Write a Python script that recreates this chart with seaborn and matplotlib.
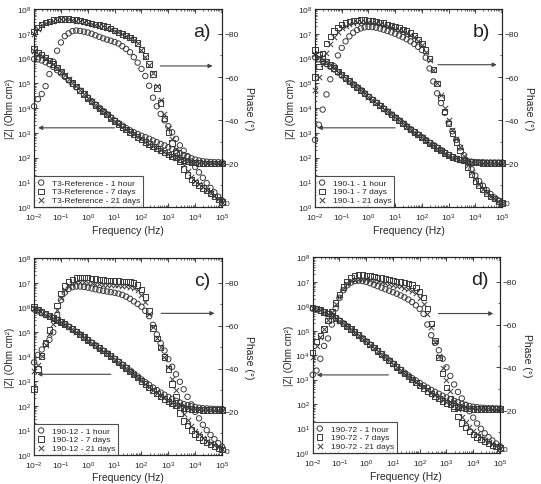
import numpy as np
import matplotlib
matplotlib.use("Agg")
import matplotlib.pyplot as plt
from matplotlib.ticker import LogLocator, NullFormatter, MultipleLocator
import seaborn as sns

# measured frequencies (Hz), 7 points per decade
freq = [0.01, 0.01389, 0.01931, 0.02683, 0.03728, 0.0518, 0.07197,
        0.1, 0.1389, 0.1931, 0.2683, 0.3728, 0.518, 0.7197,
        1.0, 1.389, 1.931, 2.683, 3.728, 5.18, 7.197,
        10.0, 13.89, 19.31, 26.83, 37.28, 51.8, 71.97,
        100.0, 138.9, 193.1, 268.3, 372.8, 518.0, 719.7,
        1000.0, 1389.0, 1931.0, 2683.0, 3728.0, 5180.0, 7197.0,
        10000.0, 13890.0, 19310.0, 26830.0, 37280.0, 51800.0, 71970.0,
        100000.0]

# a) T3-Reference : log10 |Z| and phase (deg)
a_logz_1h = [5.98, 5.97, 5.92, 5.85, 5.77, 5.66, 5.53,
             5.40, 5.26, 5.12, 4.98, 4.84, 4.70, 4.56,
             4.42, 4.28, 4.14, 4.01, 3.88, 3.75, 3.62,
             3.50, 3.39, 3.29, 3.19, 3.10, 3.02, 2.95,
             2.88, 2.82, 2.76, 2.69, 2.62, 2.55, 2.49,
             2.42, 2.34, 2.26, 2.18, 2.10, 2.03, 1.97,
             1.92, 1.88, 1.85, 1.83, 1.82, 1.81, 1.81, 1.80]
a_logz_7d = [6.38, 6.25, 6.16, 6.04, 5.92, 5.78, 5.63,
             5.47, 5.31, 5.16, 5.01, 4.86, 4.71, 4.56,
             4.41, 4.27, 4.13, 3.99, 3.86, 3.73, 3.60,
             3.47, 3.35, 3.24, 3.13, 3.03, 2.93, 2.83,
             2.73, 2.63, 2.54, 2.45, 2.37, 2.28, 2.20,
             2.12, 2.05, 1.99, 1.93, 1.88, 1.84, 1.81,
             1.79, 1.78, 1.77, 1.77, 1.76, 1.76, 1.76, 1.76]
a_logz_21d = [6.30, 6.20, 6.12, 6.02, 5.90, 5.77, 5.62,
              5.47, 5.32, 5.17, 5.02, 4.87, 4.72, 4.57,
              4.42, 4.28, 4.14, 4.00, 3.87, 3.74, 3.61,
              3.48, 3.36, 3.25, 3.14, 3.04, 2.94, 2.84,
              2.74, 2.64, 2.55, 2.46, 2.38, 2.29, 2.21,
              2.13, 2.06, 2.00, 1.94, 1.89, 1.85, 1.82,
              1.80, 1.79, 1.78, 1.78, 1.77, 1.77, 1.77, 1.77]
a_ph_1h = [-46.5, -49.8, -52.2, -55.8, -61.4, -67.1, -72.2,
           -76.0, -78.9, -80.2, -81.2, -81.5, -81.3, -81.0,
           -80.6, -80.0, -79.3, -78.6, -77.9, -77.3, -76.8,
           -76.2, -75.5, -74.3, -73.0, -71.5, -69.2, -66.7,
           -63.8, -60.5, -56.0, -50.5, -46.5, -43.0, -40.0,
           -37.3, -34.5, -31.5, -28.5, -26.0, -23.5, -21.0,
           -18.5, -16.0, -13.5, -11.0, -8.8, -6.8, -4.8, -3.0]
a_ph_7d = [-81.0, -83.0, -84.3, -85.2, -85.8, -86.3, -86.6,
           -86.8, -86.9, -86.8, -86.6, -86.3, -86.0, -85.6,
           -85.2, -84.8, -84.4, -84.0, -83.6, -83.1, -82.5,
           -81.5, -80.7, -79.9, -79.1, -78.3, -77.3, -75.8,
           -72.8, -69.8, -66.0, -61.5, -55.0, -48.0, -41.0,
           -34.5, -29.5, -25.0, -21.0, -17.5, -14.8, -12.8,
           -11.2, -9.9, -8.7, -7.5, -6.3, -5.0, -3.6, -2.3]
a_ph_21d = [-80.0, -82.4, -83.9, -84.9, -85.6, -86.1, -86.4,
            -86.6, -86.7, -86.6, -86.4, -86.1, -85.8, -85.4,
            -85.0, -84.6, -84.2, -83.8, -83.4, -82.9, -82.3,
            -81.4, -80.6, -79.8, -79.0, -78.2, -77.2, -75.6,
            -72.6, -69.5, -65.8, -61.8, -56.0, -49.5, -43.0,
            -36.5, -31.5, -27.0, -23.0, -19.5, -16.5, -14.0,
            -12.0, -10.5, -9.2, -7.9, -6.6, -5.2, -3.8, -2.4]

# b) 190-1
b_logz_1h = [6.05, 5.97, 5.88, 5.78, 5.67, 5.56, 5.44,
             5.32, 5.20, 5.08, 4.96, 4.84, 4.72, 4.59,
             4.46, 4.34, 4.22, 4.10, 3.98, 3.86, 3.74,
             3.62, 3.50, 3.38, 3.26, 3.15, 3.04, 2.93,
             2.82, 2.71, 2.60, 2.50, 2.40, 2.30, 2.20,
             2.10, 2.02, 1.95, 1.90, 1.87, 1.85, 1.83,
             1.82, 1.81, 1.81, 1.80, 1.80, 1.80, 1.80, 1.80]
b_logz_7d = [6.35, 6.16, 6.01, 5.87, 5.74, 5.61, 5.48,
             5.35, 5.22, 5.09, 4.96, 4.84, 4.72, 4.59,
             4.46, 4.34, 4.22, 4.10, 3.98, 3.86, 3.74,
             3.62, 3.50, 3.38, 3.26, 3.14, 3.03, 2.92,
             2.81, 2.70, 2.59, 2.48, 2.38, 2.28, 2.19,
             2.10, 2.02, 1.96, 1.91, 1.87, 1.84, 1.82,
             1.80, 1.79, 1.78, 1.78, 1.78, 1.78, 1.78, 1.78]
b_logz_21d = [6.20, 6.08, 5.96, 5.84, 5.72, 5.60, 5.47,
              5.34, 5.21, 5.08, 4.96, 4.84, 4.72, 4.59,
              4.46, 4.34, 4.22, 4.10, 3.98, 3.86, 3.74,
              3.62, 3.50, 3.38, 3.26, 3.14, 3.03, 2.92,
              2.81, 2.70, 2.60, 2.49, 2.39, 2.29, 2.20,
              2.11, 2.03, 1.97, 1.92, 1.88, 1.85, 1.83,
              1.81, 1.80, 1.79, 1.79, 1.79, 1.79, 1.79, 1.79]
b_ph_1h = [-31.0, -38.0, -45.0, -52.0, -59.0, -65.0, -70.0,
           -73.5, -76.5, -78.8, -80.5, -81.7, -82.5, -83.0,
           -83.2, -83.1, -82.8, -82.4, -81.9, -81.3, -80.7,
           -80.0, -79.2, -78.4, -77.5, -76.5, -75.3, -74.0,
           -72.5, -69.0, -64.0, -58.0, -52.5, -48.0, -43.5,
           -39.0, -35.0, -31.0, -27.5, -24.0, -20.5, -17.5,
           -14.5, -12.0, -9.8, -7.8, -6.0, -4.4, -3.1, -2.0]
b_ph_7d = [-60.0, -65.0, -71.0, -75.5, -78.8, -81.3, -83.0,
           -84.2, -85.0, -85.6, -86.0, -86.2, -86.3, -86.3,
           -86.2, -86.0, -85.7, -85.3, -84.9, -84.4, -83.9,
           -83.3, -82.7, -82.0, -81.2, -80.3, -79.2, -77.5,
           -75.5, -72.5, -68.5, -63.5, -57.0, -50.5, -44.0,
           -38.5, -34.0, -30.0, -26.0, -22.0, -18.5, -15.0,
           -12.0, -9.8, -8.0, -6.5, -5.0, -3.8, -2.7, -1.8]
b_ph_21d = [-54.0, -60.0, -66.0, -71.0, -75.5, -78.5, -80.8,
            -82.5, -83.7, -84.5, -85.0, -85.3, -85.4, -85.4,
            -85.3, -85.1, -84.8, -84.4, -84.0, -83.5, -83.0,
            -82.4, -81.8, -81.1, -80.3, -79.4, -78.3, -76.7,
            -74.8, -71.8, -68.0, -63.5, -57.5, -51.5, -45.5,
            -40.0, -35.5, -31.5, -27.5, -23.5, -19.5, -16.0,
            -13.0, -10.5, -8.5, -6.8, -5.3, -4.0, -2.9, -1.9]

# c) 190-12
c_logz_1h = [5.92, 5.84, 5.77, 5.70, 5.63, 5.56, 5.49,
             5.41, 5.32, 5.22, 5.12, 5.01, 4.90, 4.79,
             4.68, 4.57, 4.46, 4.35, 4.24, 4.13, 4.02,
             3.91, 3.79, 3.67, 3.55, 3.43, 3.31, 3.19,
             3.07, 2.96, 2.85, 2.74, 2.64, 2.54, 2.45,
             2.36, 2.28, 2.20, 2.13, 2.07, 2.02, 1.98,
             1.95, 1.92, 1.90, 1.89, 1.88, 1.87, 1.87, 1.87]
c_logz_7d = [6.02, 5.91, 5.81, 5.73, 5.65, 5.57, 5.49,
             5.41, 5.32, 5.22, 5.12, 5.01, 4.90, 4.79,
             4.68, 4.57, 4.46, 4.35, 4.24, 4.13, 4.02,
             3.90, 3.78, 3.66, 3.53, 3.40, 3.27, 3.14,
             3.01, 2.88, 2.75, 2.62, 2.50, 2.38, 2.27,
             2.17, 2.08, 2.01, 1.95, 1.91, 1.88, 1.86,
             1.85, 1.84, 1.83, 1.83, 1.83, 1.83, 1.83, 1.83]
c_logz_21d = [5.97, 5.88, 5.79, 5.71, 5.64, 5.56, 5.49,
              5.41, 5.32, 5.22, 5.12, 5.01, 4.90, 4.79,
              4.68, 4.57, 4.46, 4.35, 4.24, 4.13, 4.02,
              3.90, 3.78, 3.66, 3.54, 3.41, 3.28, 3.15,
              3.03, 2.90, 2.78, 2.65, 2.53, 2.41, 2.30,
              2.20, 2.11, 2.04, 1.98, 1.93, 1.90, 1.88,
              1.86, 1.85, 1.84, 1.84, 1.84, 1.84, 1.84, 1.84]
c_ph_1h = [-43.0, -46.5, -49.0, -51.5, -53.5, -57.0, -65.0,
           -72.0, -75.5, -77.2, -78.0, -78.3, -78.3, -78.1,
           -77.8, -77.4, -77.0, -76.6, -76.3, -76.0, -75.7,
           -75.4, -75.0, -74.4, -73.6, -72.6, -71.4, -70.2,
           -68.9, -67.0, -64.5, -60.5, -56.0, -52.0, -48.5,
           -44.5, -41.0, -37.5, -34.0, -30.5, -27.0, -23.5,
           -20.0, -17.0, -14.0, -11.5, -9.3, -7.3, -5.5, -3.8]
c_ph_7d = [-30.6, -40.0, -46.0, -52.0, -58.0, -64.0, -69.6,
           -75.0, -78.5, -80.5, -81.7, -82.3, -82.6, -82.6,
           -82.4, -82.1, -81.8, -81.6, -81.4, -81.2, -81.0,
           -80.9, -80.8, -80.7, -80.6, -80.4, -80.0, -79.0,
           -77.0, -73.5, -67.0, -59.0, -54.0, -50.0, -45.5,
           -40.0, -33.0, -27.0, -19.5, -15.8, -13.8, -11.5,
           -9.7, -8.3, -7.0, -5.8, -4.8, -3.9, -3.1, -2.5]
c_ph_21d = [-39.0, -42.0, -46.0, -51.0, -56.0, -61.0, -67.5,
            -73.0, -76.5, -78.6, -79.7, -80.2, -80.3, -80.2,
            -80.0, -79.8, -79.6, -79.4, -79.2, -79.1, -79.0,
            -78.9, -78.8, -78.7, -78.5, -78.2, -77.6, -76.5,
            -74.5, -71.0, -65.5, -59.5, -54.5, -50.0, -45.5,
            -41.0, -35.5, -30.0, -23.5, -19.0, -16.0, -13.5,
            -11.3, -9.5, -8.0, -6.6, -5.4, -4.4, -3.5, -2.7]

# d) 190-72
d_logz_1h = [5.90, 5.86, 5.81, 5.75, 5.68, 5.60, 5.51,
             5.41, 5.30, 5.18, 5.06, 4.94, 4.82, 4.69,
             4.56, 4.43, 4.30, 4.17, 4.04, 3.91, 3.78,
             3.65, 3.52, 3.40, 3.28, 3.17, 3.06, 2.96,
             2.86, 2.76, 2.67, 2.58, 2.50, 2.42, 2.34,
             2.27, 2.20, 2.13, 2.07, 2.01, 1.96, 1.92,
             1.89, 1.87, 1.85, 1.84, 1.83, 1.83, 1.82, 1.82]
d_logz_7d = [5.95, 5.90, 5.84, 5.77, 5.69, 5.61, 5.51,
             5.41, 5.30, 5.18, 5.06, 4.94, 4.82, 4.69,
             4.56, 4.43, 4.30, 4.17, 4.04, 3.91, 3.78,
             3.65, 3.52, 3.39, 3.26, 3.13, 3.01, 2.89,
             2.77, 2.65, 2.53, 2.42, 2.32, 2.22, 2.13,
             2.05, 1.98, 1.92, 1.88, 1.85, 1.83, 1.81,
             1.80, 1.79, 1.79, 1.79, 1.79, 1.79, 1.79, 1.79]
d_logz_21d = [5.92, 5.88, 5.83, 5.76, 5.69, 5.61, 5.51,
              5.41, 5.30, 5.18, 5.06, 4.94, 4.82, 4.69,
              4.56, 4.43, 4.30, 4.17, 4.04, 3.91, 3.78,
              3.65, 3.52, 3.39, 3.27, 3.15, 3.03, 2.91,
              2.79, 2.68, 2.56, 2.45, 2.35, 2.25, 2.16,
              2.08, 2.01, 1.95, 1.90, 1.87, 1.85, 1.83,
              1.82, 1.81, 1.81, 1.81, 1.81, 1.81, 1.81, 1.81]
d_ph_1h = [-36.5, -38.5, -44.0, -50.0, -53.5, -60.0, -67.5,
           -72.5, -76.0, -78.3, -79.6, -80.3, -80.5, -80.3,
           -79.9, -79.3, -78.6, -77.9, -77.2, -76.5, -75.8,
           -75.1, -74.4, -73.6, -72.7, -71.7, -70.5, -69.0,
           -67.3, -65.0, -60.0, -55.0, -51.5, -48.0, -44.0,
           -40.0, -36.0, -32.0, -28.5, -25.5, -22.5, -19.5,
           -16.5, -13.8, -11.3, -9.2, -7.4, -5.8, -4.4, -3.1]
d_ph_7d = [-47.0, -52.0, -55.0, -58.0, -62.0, -66.0, -70.0,
           -74.0, -77.5, -80.0, -81.8, -82.8, -83.2, -83.2,
           -83.0, -82.7, -82.4, -82.1, -81.7, -81.3, -80.9,
           -80.5, -80.2, -79.9, -79.6, -79.2, -78.5, -77.4,
           -75.5, -72.5, -67.5, -60.5, -52.5, -44.5, -37.0,
           -30.5, -25.5, -21.0, -17.0, -14.0, -11.8, -10.0,
           -8.6, -7.4, -6.3, -5.3, -4.4, -3.6, -2.9, -2.3]
d_ph_21d = [-45.0, -50.0, -54.0, -58.0, -62.0, -66.0, -69.5,
            -73.0, -76.5, -78.8, -80.3, -81.0, -81.3, -81.3,
            -81.1, -80.8, -80.5, -80.2, -79.8, -79.4, -79.0,
            -78.6, -78.2, -77.8, -77.3, -76.7, -75.8, -74.5,
            -72.5, -69.5, -65.0, -59.0, -52.0, -45.5, -39.5,
            -34.0, -29.0, -24.5, -20.5, -17.0, -14.3, -12.0,
            -10.2, -8.7, -7.4, -6.2, -5.1, -4.1, -3.2, -2.5]

times = ["1 hour", "7 days", "21 days"]
samples = ["T3-Reference", "190-1", "190-12", "190-72"]
letters = ["a)", "b)", "c)", "d)"]

sns.set_style("ticks")
plt.rcParams['font.family'] = ['Liberation Sans', 'DejaVu Sans']
plt.rcParams['mathtext.default'] = 'regular'
plt.rcParams['axes.linewidth'] = 0.8

edge = '#3a3a3a'
markers = ['o', 's', 'x']

panels = [
    ([0.0630, 0.5711, 0.3474, 0.4082], (a_logz_1h, a_logz_7d, a_logz_21d), (a_ph_1h, a_ph_7d, a_ph_21d),
     [(1.0, -1.85, 3.2), (2.7, 4.65, 5.7)]),
    ([0.5823, 0.5711, 0.3457, 0.4082], (b_logz_1h, b_logz_7d, b_logz_21d), (b_ph_1h, b_ph_7d, b_ph_21d),
     [(1.0, -1.9, 3.2), (2.6, 4.8, 5.75)]),
    ([0.0630, 0.0600, 0.3474, 0.4054], (c_logz_1h, c_logz_7d, c_logz_21d), (c_ph_1h, c_ph_7d, c_ph_21d),
     [(0.86, -1.88, 3.28), (2.73, 4.72, 5.76)]),
    ([0.5780, 0.0640, 0.3462, 0.4035], (d_logz_1h, d_logz_7d, d_logz_21d), (d_ph_1h, d_ph_7d, d_ph_21d),
     [(0.83, -1.85, 3.19), (2.7, 4.75, 5.7)]),
]

fig = plt.figure(figsize=(5.41, 4.85), dpi=100)

for i, (rect, zs, phs, arrows) in enumerate(panels):
    ax = fig.add_axes(rect)
    ax2 = ax.twinx()

    for j in range(3):
        z = 10 ** np.array(zs[j])
        lab = samples[i] + " - " + times[j]
        if markers[j] == 'x':
            kw = dict(color=edge, linewidth=0.7)
        else:
            kw = dict(facecolor='none', edgecolor=edge, linewidth=0.7)
        sns.scatterplot(x=freq, y=z, marker=markers[j], s=15, ax=ax, legend=False,
                        label=lab, clip_on=False, zorder=3, **kw)
        sns.scatterplot(x=freq, y=phs[j], marker=markers[j], s=15, ax=ax2, legend=False,
                        clip_on=False, zorder=3, **kw)

    ax.set_xscale('log')
    ax.set_yscale('log')
    ax.set_xlim(1e-2, 1e5)
    ax.set_ylim(1, 1e8)
    ax2.set_ylim(0, -80 * 8 / 7)

    ax.xaxis.set_major_locator(LogLocator(base=10, numticks=20))
    ax.xaxis.set_minor_locator(LogLocator(base=10, subs=np.arange(2, 10), numticks=100))
    ax.xaxis.set_minor_formatter(NullFormatter())
    ax.yaxis.set_major_locator(LogLocator(base=10, numticks=20))
    ax.yaxis.set_minor_locator(LogLocator(base=10, subs=np.arange(2, 10), numticks=100))
    ax.yaxis.set_minor_formatter(NullFormatter())
    ax2.set_yticks([0, -20, -40, -60, -80])
    ax2.yaxis.set_minor_locator(MultipleLocator(10))

    ax.tick_params(which='both', direction='in', top=True, right=False, labelsize=6)
    ax.tick_params(axis='x', pad=3.5)
    ax.tick_params(axis='y', pad=2)
    ax.tick_params(which='major', length=3, width=0.6)
    ax.tick_params(which='minor', length=1.5, width=0.5)
    ax2.tick_params(which='both', direction='in', labelsize=6, pad=2)
    ax2.tick_params(which='major', length=3, width=0.6)
    ax2.tick_params(which='minor', length=1.5, width=0.5)
    # lift the "0" phase label a little off the x tick labels
    ax2.get_yticklabels()[0].set_verticalalignment('bottom')

    ax.set_xlabel('Frequency (Hz)', fontsize=7.5, labelpad=1)
    ax.set_ylabel('|Z| (Ohm cm²)', fontsize=7, labelpad=1)
    ax2.set_ylabel('Phase (°)', fontsize=7.5, rotation=270, labelpad=11)

    for x0, x1, yv in arrows:
        ax.annotate('', xy=(10 ** x1, 10 ** yv), xytext=(10 ** x0, 10 ** yv),
                    arrowprops=dict(arrowstyle='-|>', color='#444444', lw=0.8,
                                    mutation_scale=6, shrinkA=0, shrinkB=0))

    ax2.text(0.937, 0.885, letters[i], transform=ax.transAxes, fontsize=14,
             ha='right', va='center', color='#222222')

    handles, labels = ax.get_legend_handles_labels()
    leg = ax2.legend(handles, labels, loc='lower left', fontsize=6, frameon=True,
                     fancybox=False, edgecolor='#222222', borderaxespad=0,
                     handlelength=1.0, handletextpad=0.8, borderpad=0.35,
                     labelspacing=0.1)
    leg.get_frame().set_linewidth(0.8)

fig.savefig('out.png', dpi=100)
